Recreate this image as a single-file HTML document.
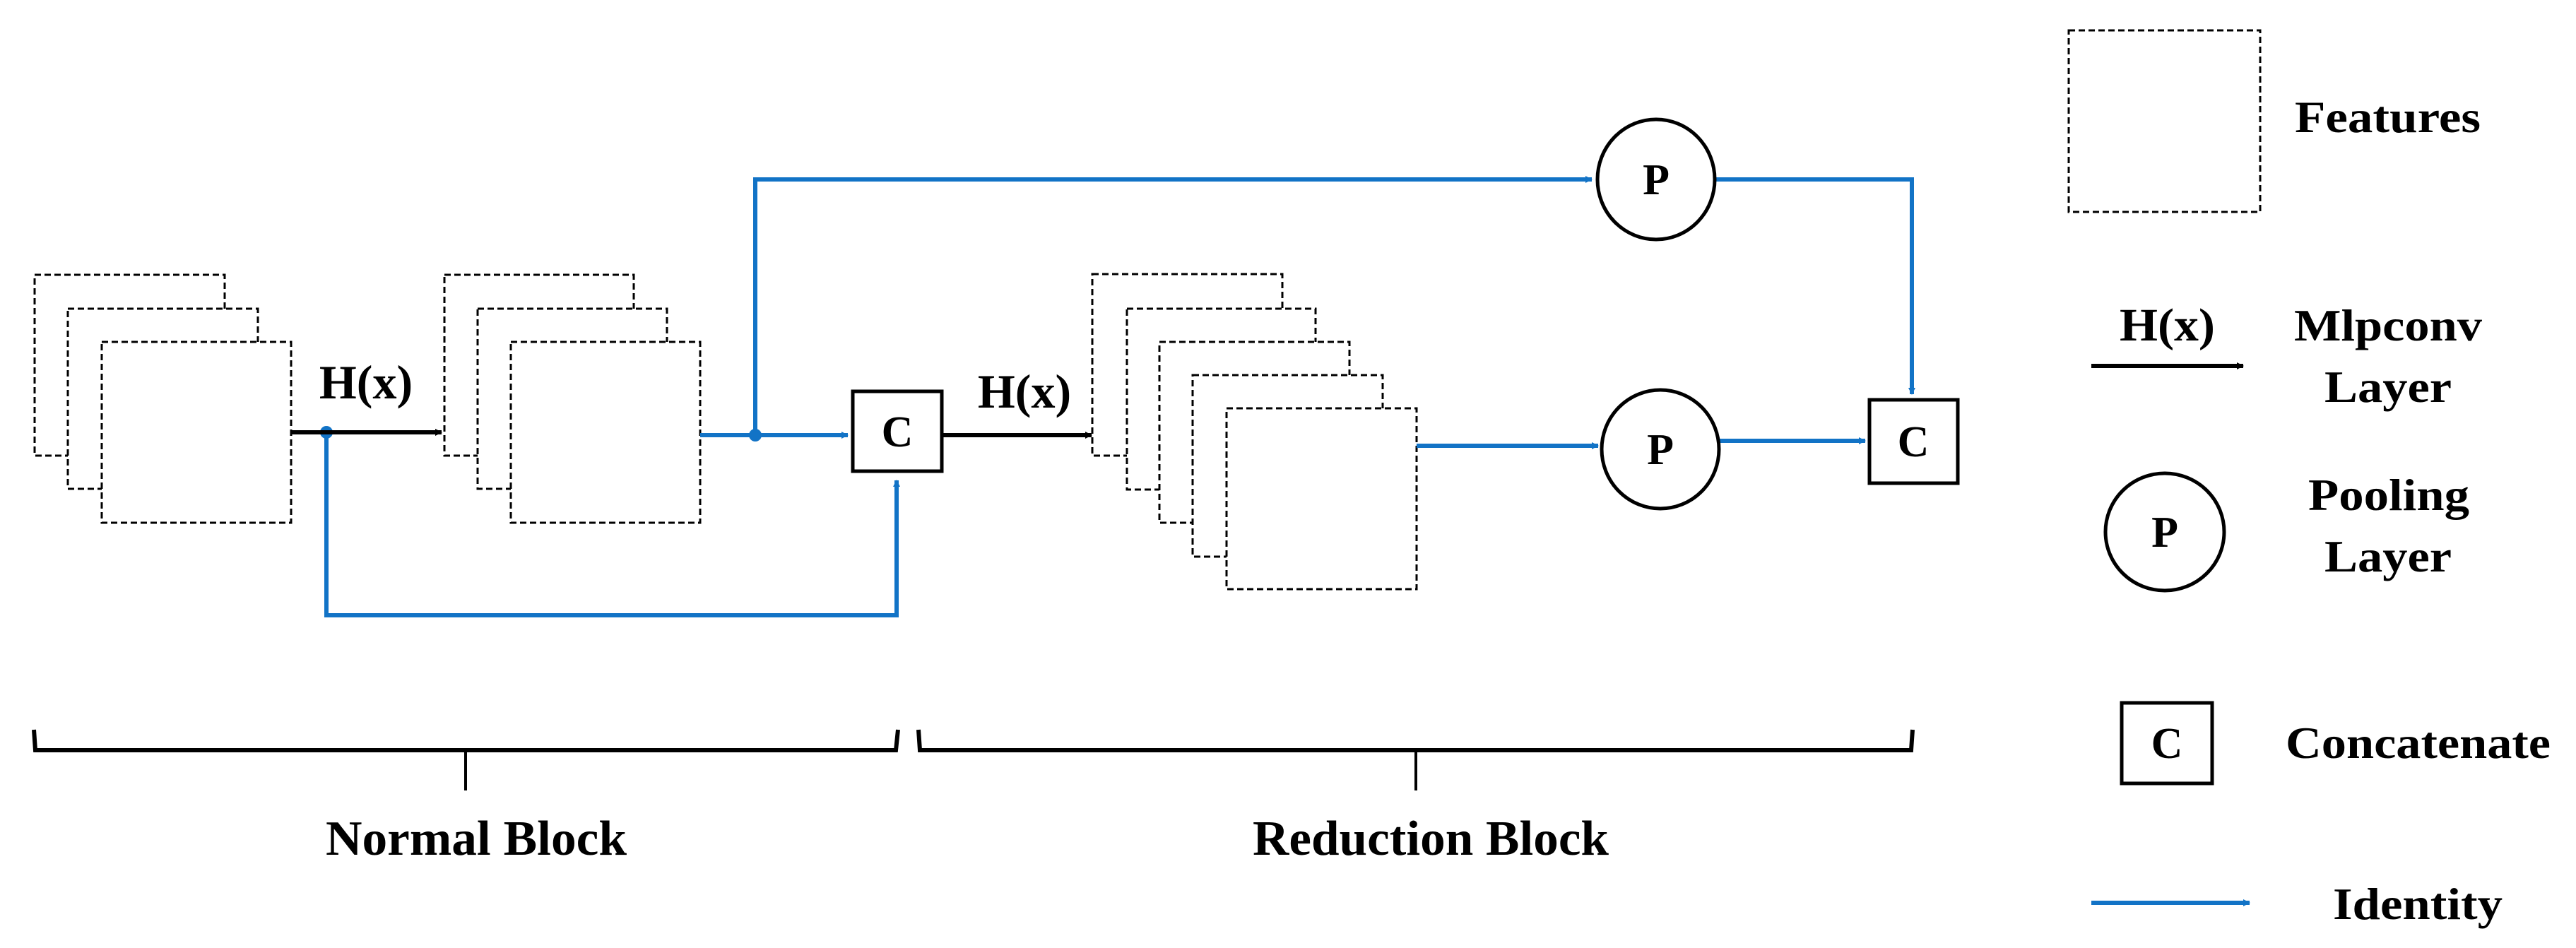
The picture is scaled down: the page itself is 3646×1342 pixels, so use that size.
<!DOCTYPE html>
<html><head><meta charset="utf-8"><style>
html,body{margin:0;padding:0;background:#fff;}
svg{display:block;}
text{font-family:"Liberation Serif",serif;font-weight:bold;fill:#000;}
</style></head><body>
<svg width="3646" height="1342" viewBox="0 0 3646 1342" xmlns="http://www.w3.org/2000/svg">
<defs>
<marker id="ab" markerWidth="10" markerHeight="10" refX="9" refY="5" orient="auto" markerUnits="userSpaceOnUse" viewBox="0 0 10 10"><path d="M0,0 L10,5 L0,10 z" fill="#000"/></marker>
<marker id="au" markerWidth="10" markerHeight="10" refX="9" refY="5" orient="auto" markerUnits="userSpaceOnUse" viewBox="0 0 10 10"><path d="M0,0 L10,5 L0,10 z" fill="#1273c6"/></marker>
</defs>
<g fill="#fff" stroke="#000" stroke-width="3" stroke-dasharray="9,5">
<rect x="49" y="389" width="269" height="256"/>
<rect x="96" y="437" width="269" height="255"/>
<rect x="144" y="484" width="268" height="256"/>
<rect x="629" y="389" width="268" height="256"/>
<rect x="676" y="437" width="268" height="255"/>
<rect x="723" y="484" width="268" height="256"/>
<rect x="1546" y="388" width="269" height="257"/>
<rect x="1595" y="437" width="267" height="256"/>
<rect x="1641" y="484" width="269" height="256"/>
<rect x="1688" y="531" width="269" height="257"/>
<rect x="1736" y="578" width="269" height="256"/>
<rect x="2928" y="43" width="271" height="257"/>
</g>
<g stroke="#1273c6" stroke-width="6" fill="none">
<polyline points="462,612 462,871 1269,871 1269,680" marker-end="url(#au)"/>
<line x1="991" y1="616" x2="1200" y2="616" marker-end="url(#au)"/>
<polyline points="1069,616 1069,254 2253,254" marker-end="url(#au)"/>
<polyline points="2427,254 2706,254 2706,558" marker-end="url(#au)"/>
<line x1="2005" y1="631" x2="2262" y2="631" marker-end="url(#au)"/>
<line x1="2433" y1="624" x2="2640" y2="624" marker-end="url(#au)"/>
<line x1="2960" y1="1278" x2="3184" y2="1278" marker-end="url(#au)"/>
</g>
<circle cx="462" cy="612" r="9" fill="#1273c6"/>
<circle cx="1069" cy="616" r="9" fill="#1273c6"/>
<g stroke="#000" stroke-width="6" fill="none">
<line x1="412" y1="612" x2="625" y2="612" marker-end="url(#ab)"/>
<line x1="1334" y1="616" x2="1545" y2="616" marker-end="url(#ab)"/>
<line x1="2960" y1="518" x2="3175" y2="518" marker-end="url(#ab)"/>
</g>
<g stroke="#000" stroke-width="5" fill="#fff">
<rect x="1207" y="554" width="126" height="113"/>
<rect x="2646" y="566" width="125" height="118"/>
<rect x="3003" y="995" width="128" height="114"/>
<ellipse cx="2344" cy="254" rx="83" ry="85"/>
<ellipse cx="2350" cy="636" rx="83" ry="84"/>
<ellipse cx="3064" cy="753" rx="84" ry="83"/>
</g>
<g font-size="68" text-anchor="middle">
<text x="518" y="564">H(x)</text>
<text x="1450" y="577">H(x)</text>
</g>
<text x="3000" y="482" font-size="66" textLength="135" lengthAdjust="spacingAndGlyphs">H(x)</text>
<g font-size="62" text-anchor="middle">
<text x="1270" y="632">C</text>
<text x="2708" y="646">C</text>
<text x="3067" y="1073">C</text>
<text x="2344" y="275">P</text>
<text x="2350" y="657">P</text>
<text x="3064" y="774">P</text>
</g>
<g font-size="64">
<text x="3248" y="187" textLength="263" lengthAdjust="spacingAndGlyphs">Features</text>
<text x="3247" y="482" textLength="266" lengthAdjust="spacingAndGlyphs">Mlpconv</text>
<text x="3290" y="569" textLength="180" lengthAdjust="spacingAndGlyphs">Layer</text>
<text x="3267" y="722" textLength="228" lengthAdjust="spacingAndGlyphs">Pooling</text>
<text x="3290" y="809" textLength="180" lengthAdjust="spacingAndGlyphs">Layer</text>
<text x="3235" y="1073" textLength="375" lengthAdjust="spacingAndGlyphs">Concatenate</text>
<text x="3302" y="1301" textLength="240" lengthAdjust="spacingAndGlyphs">Identity</text>
</g>
<g stroke="#000" fill="none">
<polyline points="48,1033 50,1062 1268,1062 1271,1033" stroke-width="6"/>
<line x1="659" y1="1062" x2="659" y2="1119" stroke-width="4"/>
<polyline points="1300,1033 1302,1062 2705,1062 2707,1033" stroke-width="6"/>
<line x1="2004" y1="1062" x2="2004" y2="1119" stroke-width="4"/>
</g>
<g font-size="70">
<text x="461" y="1210" textLength="426" lengthAdjust="spacingAndGlyphs">Normal Block</text>
<text x="1773" y="1210" textLength="504" lengthAdjust="spacingAndGlyphs">Reduction Block</text>
</g>
</svg>
</body></html>
